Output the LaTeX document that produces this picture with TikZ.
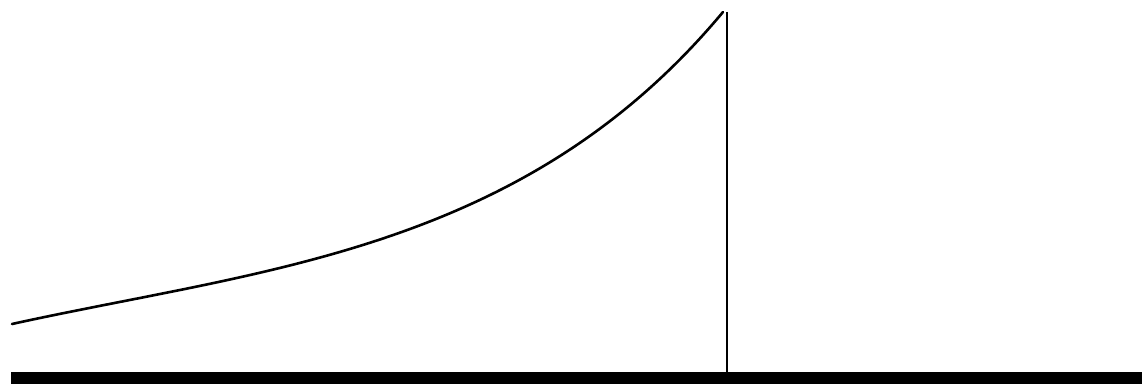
\documentclass[tikz,border=0pt]{standalone}
\begin{document}
\begin{tikzpicture}[x=1pt,y=-1pt,
  baseline/.style={line width=12pt},
  wall/.style={line width=2.4pt},
  curveline/.style={line width=2.6pt, line cap=round}]
\useasboundingbox (0,0) rectangle (1142,390);
\coordinate (bl) at (11,378);
\coordinate (br) at (1142,378);
\coordinate (top) at (727,12);
\coordinate (foot) at (727,378);
\coordinate (start) at (12,324);
\coordinate (tip) at (723,12);
\draw[baseline] (bl) -- (br);
\draw[wall] (top) -- (foot);
\draw[curveline] (start) .. controls (262,269) and (523,252) .. (tip);
\end{tikzpicture}
\end{document}
